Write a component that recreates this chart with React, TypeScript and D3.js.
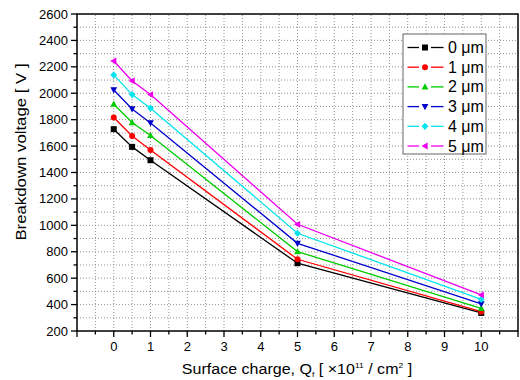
import * as d3 from "d3";

const charges = [0, 0.5, 1, 5, 10];
const seriesNames = ["0 \u03bcm", "1 \u03bcm", "2 \u03bcm", "3 \u03bcm", "4 \u03bcm", "5 \u03bcm"];
const colors = ["#000000", "#ff0000", "#00cc00", "#0000cc", "#00e5ee", "#ee00ee"];
const shapes = ["square", "circle", "up", "down", "diamond", "left"];

const v0 = [1728, 1594, 1493, 713, 337];
const v1 = [1816, 1677, 1571, 743, 346];
const v2 = [1917, 1778, 1680, 801, 372];
const v3 = [2025, 1881, 1775, 864, 405];
const v4 = [2139, 1990, 1887, 940, 440];
const v5 = [2244, 2093, 1990, 1008, 473];
const seriesValues = [v0, v1, v2, v3, v4, v5];

const xTickLabels = ["0", "1", "2", "3", "4", "5", "6", "7", "8", "9", "10"];
const yTickLabels = ["200", "400", "600", "800", "1000", "1200", "1400", "1600", "1800", "2000", "2200", "2400", "2600"];

const W = 520;
const H = 380;
const margin = { top: 14, right: 2, bottom: 49, left: 77 };

const x = d3.scaleLinear().domain([-1, 11]).range([margin.left, W - margin.right]);
const y = d3.scaleLinear().domain([200, 2600]).range([H - margin.bottom, margin.top]);

const font = "'Liberation Sans', Arial, sans-serif";

function Marker({ shape, cx, cy, color }: { shape: string; cx: number; cy: number; color: string }) {
  const r = 3;
  if (shape === "square") return <rect x={cx - r} y={cy - r} width={2 * r} height={2 * r} fill={color} />;
  if (shape === "circle") return <circle cx={cx} cy={cy} r={r} fill={color} />;
  const pts: Record<string, [number, number][]> = {
    up: [[0, -3.6], [3.4, 2.6], [-3.4, 2.6]],
    down: [[0, 3.6], [3.4, -2.6], [-3.4, -2.6]],
    diamond: [[0, -3.6], [3.4, 0], [0, 3.6], [-3.4, 0]],
    left: [[-3.6, 0], [2.6, -3.4], [2.6, 3.4]],
  };
  return <polygon points={pts[shape].map(([a, b]) => `${cx + a},${cy + b}`).join(" ")} fill={color} />;
}

export default function App() {
  const line = d3
    .line<number>()
    .x((_, i) => x(charges[i]))
    .y((d) => y(d));

  const xMinor = d3.range(-1, 11.01, 0.5);
  const yMinor = d3.range(200, 2601, 100);
  const x0 = margin.left;
  const x1 = W - margin.right;
  const y0 = H - margin.bottom;
  const y1 = margin.top;

  const legendX = 403;
  const legendY = 34;
  const rowH = 19.7;

  return (
    <svg width={W} height={H} style={{ position: "absolute", left: 0, top: 0 }} fontFamily={font}>
      <rect width={W} height={H} fill="#fff" />
      {/* grid */}
      <g stroke="#777" strokeWidth={0.8} strokeDasharray="1,2">
        {xMinor.filter((v) => v > -1 && v < 11).map((v) => (
          <line key={"gx" + v} x1={x(v)} x2={x(v)} y1={y0} y2={y1} />
        ))}
        {yMinor.filter((v) => v > 200 && v < 2600).map((v) => (
          <line key={"gy" + v} x1={x0} x2={x1} y1={y(v)} y2={y(v)} />
        ))}
      </g>
      {/* series */}
      {seriesValues.map((vals, si) => (
        <g key={si}>
          <path d={line(vals) ?? ""} fill="none" stroke={colors[si]} strokeWidth={1.3} />
          {vals.map((v, i) => (
            <Marker key={i} shape={shapes[si]} cx={x(charges[i])} cy={y(v)} color={colors[si]} />
          ))}
        </g>
      ))}
      {/* frame */}
      <rect x={x0} y={y1} width={x1 - x0} height={y0 - y1} fill="none" stroke="#000" strokeWidth={1.5} />
      {/* ticks */}
      <g stroke="#000" strokeWidth={1.3}>
        {xMinor.map((v) => (
          <line key={"tx" + v} x1={x(v)} x2={x(v)} y1={y0} y2={y0 + (Number.isInteger(v) ? 6 : 3.5)} />
        ))}
        {yMinor.map((v) => (
          <line key={"ty" + v} x1={x0} x2={x0 - (v % 200 === 0 ? 6 : 3.5)} y1={y(v)} y2={y(v)} />
        ))}
      </g>
      <g fontSize={13} fill="#000">
        {xTickLabels.map((t) => (
          <text key={t} x={x(+t)} y={y0 + 20} textAnchor="middle">{t}</text>
        ))}
        {yTickLabels.map((t) => (
          <text key={t} x={x0 - 9} y={y(+t) + 4.5} textAnchor="end">{t}</text>
        ))}
      </g>
      {/* axis titles */}
      <g transform="translate(297,374) scale(1.07,1)">
        <text x={0} y={0} textAnchor="middle" fontSize={15}>
          Surface charge, Q<tspan fontSize={8} dy={3}>f</tspan>
          <tspan dy={-3}> [ ×10</tspan>
          <tspan fontSize={8} dy={-6}>11</tspan>
          <tspan dy={6}> / cm</tspan>
          <tspan fontSize={8} dy={-6}>2</tspan>
          <tspan dy={6}> ]</tspan>
        </text>
      </g>
      <g transform="translate(25.5,152) rotate(-90) scale(1.12,1)">
        <text x={0} y={0} textAnchor="middle" fontSize={15}>
          Breakdown voltage [ V ]
        </text>
      </g>
      {/* legend */}
      <rect x={legendX} y={legendY} width={83} height={120} fill="#fff" stroke="#666" strokeWidth={1} />
      {seriesNames.map((name, i) => {
        const cy = legendY + 13.5 + i * rowH;
        return (
          <g key={name}>
            <line x1={legendX + 4.5} x2={legendX + 16} y1={cy} y2={cy} stroke={colors[i]} strokeWidth={1.3} />
            <line x1={legendX + 28} x2={legendX + 40.5} y1={cy} y2={cy} stroke={colors[i]} strokeWidth={1.3} />
            <Marker shape={shapes[i]} cx={legendX + 22} cy={cy} color={colors[i]} />
            <text x={legendX + 45} y={cy + 5.5} fontSize={16}>{name}</text>
          </g>
        );
      })}
    </svg>
  );
}
